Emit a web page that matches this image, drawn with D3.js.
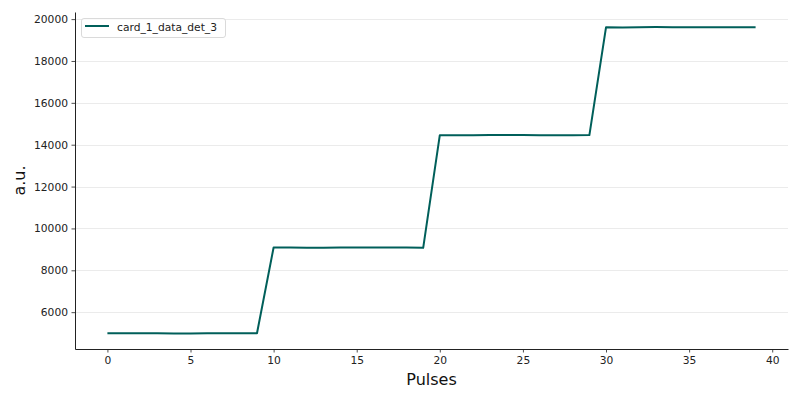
<!DOCTYPE html>
<html><head><meta charset="utf-8">
<script src="https://cdn.jsdelivr.net/npm/d3@7"></script>
<style>body{margin:0;background:#fff;} svg{display:block;font-family:"DejaVu Sans",sans-serif;}</style>
</head><body>
<svg id="c" width="800" height="400"></svg>
<script>
const seriesName = "card_1_data_det_3";
const pulses = d3.range(0, 40);
const values = [
  4995, 4995, 4995, 4992, 4985, 4985, 4988, 4992, 4998, 4990,
  9090, 9095, 9080, 9080, 9085, 9085, 9085, 9085, 9088, 9075,
  14455, 14455, 14450, 14458, 14468, 14460, 14452, 14455, 14450, 14458,
  19610, 19605, 19612, 19618, 19610, 19610, 19615, 19610, 19608, 19615
];
const xTicks = [0, 5, 10, 15, 20, 25, 30, 35, 40];
const yTicks = [6000, 8000, 10000, 12000, 14000, 16000, 18000, 20000];

const svg = d3.select("#c");
const L = 75, R = 788, T = 12, B = 349;
const x = d3.scaleLinear().domain([-1.95, 40.95]).range([L, R]);
const y = d3.scaleLinear().domain([4240, 20340]).range([B, T]);

// grid
svg.append("g").selectAll("line").data(yTicks).join("line")
  .attr("x1", L).attr("x2", R)
  .attr("y1", d => Math.round(y(d)) + 0.5).attr("y2", d => Math.round(y(d)) + 0.5)
  .attr("stroke", "#e6e6e6").attr("stroke-width", 0.8);

// axes
const gx = svg.append("g").attr("transform", `translate(0,${B})`)
  .call(d3.axisBottom(x).tickValues(xTicks).tickSize(3.5).tickPadding(3.5).tickSizeOuter(0));
const gy = svg.append("g").attr("transform", `translate(${L},0)`)
  .call(d3.axisLeft(y).tickValues(yTicks).tickSize(3.5).tickPadding(3.5).tickSizeOuter(0).tickFormat(d3.format("d")));
[gx, gy].forEach(g => {
  g.selectAll("text").attr("font-size", "10.7px").attr("fill", "#222").attr("font-family", "DejaVu Sans");
  g.selectAll("line").attr("stroke", "#222").attr("stroke-width", 0.8);
  g.select(".domain").attr("stroke", "#222").attr("stroke-width", 1);
});

// line
const line = d3.line().x((d, i) => x(pulses[i])).y(d => y(d));
svg.append("path").datum(values).attr("d", line)
  .attr("fill", "none").attr("stroke", "#005f5a").attr("stroke-width", 2)
  .attr("stroke-linejoin", "round");

// labels
svg.append("text").attr("x", (L + R) / 2).attr("y", 385).attr("text-anchor", "middle")
  .attr("font-size", "16px").attr("fill", "#111").text("Pulses");
svg.append("text").attr("transform", `translate(25,${(T + B) / 2}) rotate(-90)`)
  .attr("text-anchor", "middle").attr("font-size", "16px").attr("fill", "#111").text("a.u.");

// legend
const lg = svg.append("g");
lg.append("rect").attr("x", 81.5).attr("y", 18.5).attr("width", 144).attr("height", 19)
  .attr("rx", 2.5).attr("fill", "#fff").attr("fill-opacity", 0.8).attr("stroke", "#d0d0d0").attr("stroke-width", 0.8);
lg.append("line").attr("x1", 85).attr("x2", 109).attr("y1", 26).attr("y2", 26)
  .attr("stroke", "#005f5a").attr("stroke-width", 2);
lg.append("text").attr("x", 117).attr("y", 31).attr("font-size", "10.7px").attr("fill", "#222").text(seriesName);
</script>
</body></html>
